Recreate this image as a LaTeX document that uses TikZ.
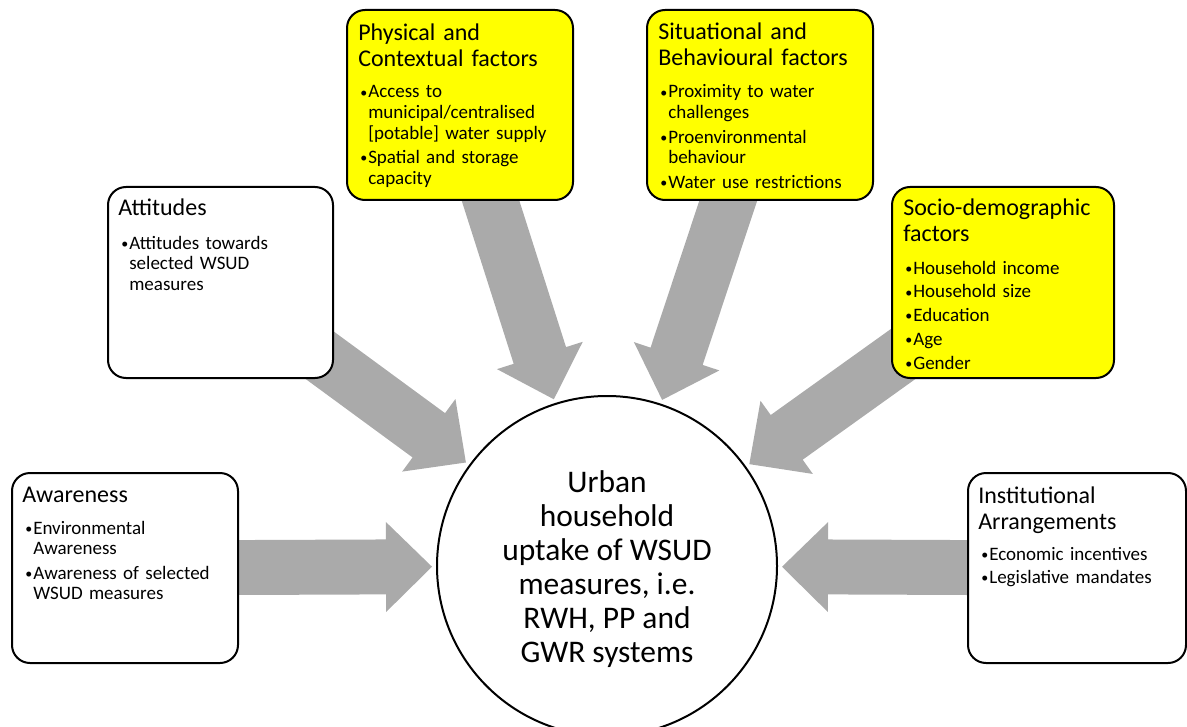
\documentclass[tikz,border=0pt]{standalone}
\usepackage{fontspec}
\setmainfont{Carlito}
\usetikzlibrary{calc,backgrounds}

\definecolor{arrowgrey}{RGB}{170,170,170}
\definecolor{keyyellow}{RGB}{255,255,0}

% bullet and continuation indent for the factor lists
\newcommand\bul{\makebox[6pt][l]{\raisebox{0.6pt}{\fontsize{10.5}{10.5}\selectfont\textbullet}}}
\newcommand\cont{\hspace*{6pt}}

% broad grey arrow from a factor box towards the central circle
\newcommand\flowarrow[1]{%
  \coordinate (arrowtip) at ($(uptake.center)!131.25pt!(#1.center)$);
  \coordinate (headbase) at ($(arrowtip)!34.5pt!(#1.center)$);
  \fill[flow] ($(#1.center)!20.6pt!90:(arrowtip)$)
    -- ($(headbase)!20.6pt!-90:(#1.center)$)
    -- ($(headbase)!33.75pt!-90:(#1.center)$)
    -- (arrowtip)
    -- ($(headbase)!33.75pt!90:(#1.center)$)
    -- ($(headbase)!20.6pt!90:(#1.center)$)
    -- ($(#1.center)!20.6pt!-90:(arrowtip)$) -- cycle;
}

\tikzset{
  factorbox/.style={draw=black, line width=1.5pt, rounded corners=13.5pt,
    fill=white, anchor=north west, inner sep=0pt, outer sep=0pt,
    minimum width=#1, minimum height=142.5pt},
  factorbox/.default=169.5pt,
  keybox/.style={factorbox=#1, fill=keyyellow},
  keybox/.default=169.5pt,
  heading/.style={anchor=base west, inner sep=0pt, text width=165pt,
    align=left, font=\fontsize{18}{19.5}\selectfont},
  points/.style={anchor=base west, inner sep=0pt, text width=165pt,
    align=left, font=\fontsize{14.25}{15.4}\selectfont},
  centretext/.style={inner sep=0pt, align=center,
    font=\fontsize{23.6}{25.5}\selectfont},
  flow/.style={fill=arrowgrey},
}

\begin{document}
\begin{tikzpicture}[x=0.75pt, y=-0.75pt]
\useasboundingbox (0,0) rectangle (1187,727);

% central outcome
\node[circle, draw=black, line width=1.5pt, fill=white, minimum size=255pt,
  inner sep=0pt] (uptake) at (607,566) {};
\node[centretext] (uptake-text) at ($(uptake.center)+(0,3)$)
  {Urban\\household\\uptake of WSUD\\measures, i.e.\\RWH, PP and\\GWR systems};

% factor boxes
\node[factorbox] (awareness) at (12,473) {};
\node[heading] (awareness-title) at ($(awareness.north west)+(10,29)$) {Awareness};
\node[points] (awareness-list) at ($(awareness.north west)+(13,61)$)
  {\bul Environmental\\\cont Awareness\\[3pt]\bul Awareness of selected\\\cont WSUD measures};

\node[factorbox=168.75pt, minimum height=143.25pt] (attitudes) at (108,187) {};
\node[heading] (attitudes-title) at ($(attitudes.north west)+(10,29)$) {Attitudes};
\node[points] (attitudes-list) at ($(attitudes.north west)+(13,62)$)
  {\bul Attitudes towards\\\cont selected WSUD\\\cont measures};

\node[keybox] (physical) at (347,10) {};
\node[heading] (physical-title) at ($(physical.north west)+(11,31)$)
  {Physical and\\Contextual factors};
\node[points] (physical-list) at ($(physical.north west)+(13,88)$)
  {\bul Access to\\\cont municipal/centralised\\\cont [potable] water supply\\[3pt]%
   \bul Spatial and storage\\\cont capacity};

\node[keybox] (situational) at (647,10) {};
\node[heading] (situational-title) at ($(situational.north west)+(11,30)$)
  {Situational and\\Behavioural factors};
\node[points] (situational-list) at ($(situational.north west)+(13,88)$)
  {\bul Proximity to water\\\cont challenges\\[3pt]\bul Proenvironmental\\\cont behaviour\\[3pt]%
   \bul Water use restrictions};

\node[keybox=166.5pt, minimum height=143.25pt] (socio) at (892,187) {};
\node[heading] (socio-title) at ($(socio.north west)+(11,28)$)
  {Socio-demographic\\factors};
\node[points] (socio-list) at ($(socio.north west)+(13,87)$)
  {\bul Household income\\[2.5pt]\bul Household size\\[2.5pt]\bul Education\\[2.5pt]%
   \bul Age\\[2.5pt]\bul Gender};

\node[factorbox=163.5pt] (institutional) at (968,473) {};
\node[heading] (institutional-title) at ($(institutional.north west)+(10,30)$)
  {Institutional\\Arrangements};
\node[points] (institutional-list) at ($(institutional.north west)+(13,87)$)
  {\bul Economic incentives\\[2pt]\bul Legislative mandates};

% arrows, behind the boxes
\begin{scope}[on background layer]
  \flowarrow{awareness}
  \flowarrow{attitudes}
  \flowarrow{physical}
  \flowarrow{situational}
  \flowarrow{socio}
  \flowarrow{institutional}
\end{scope}
\end{tikzpicture}
\end{document}
